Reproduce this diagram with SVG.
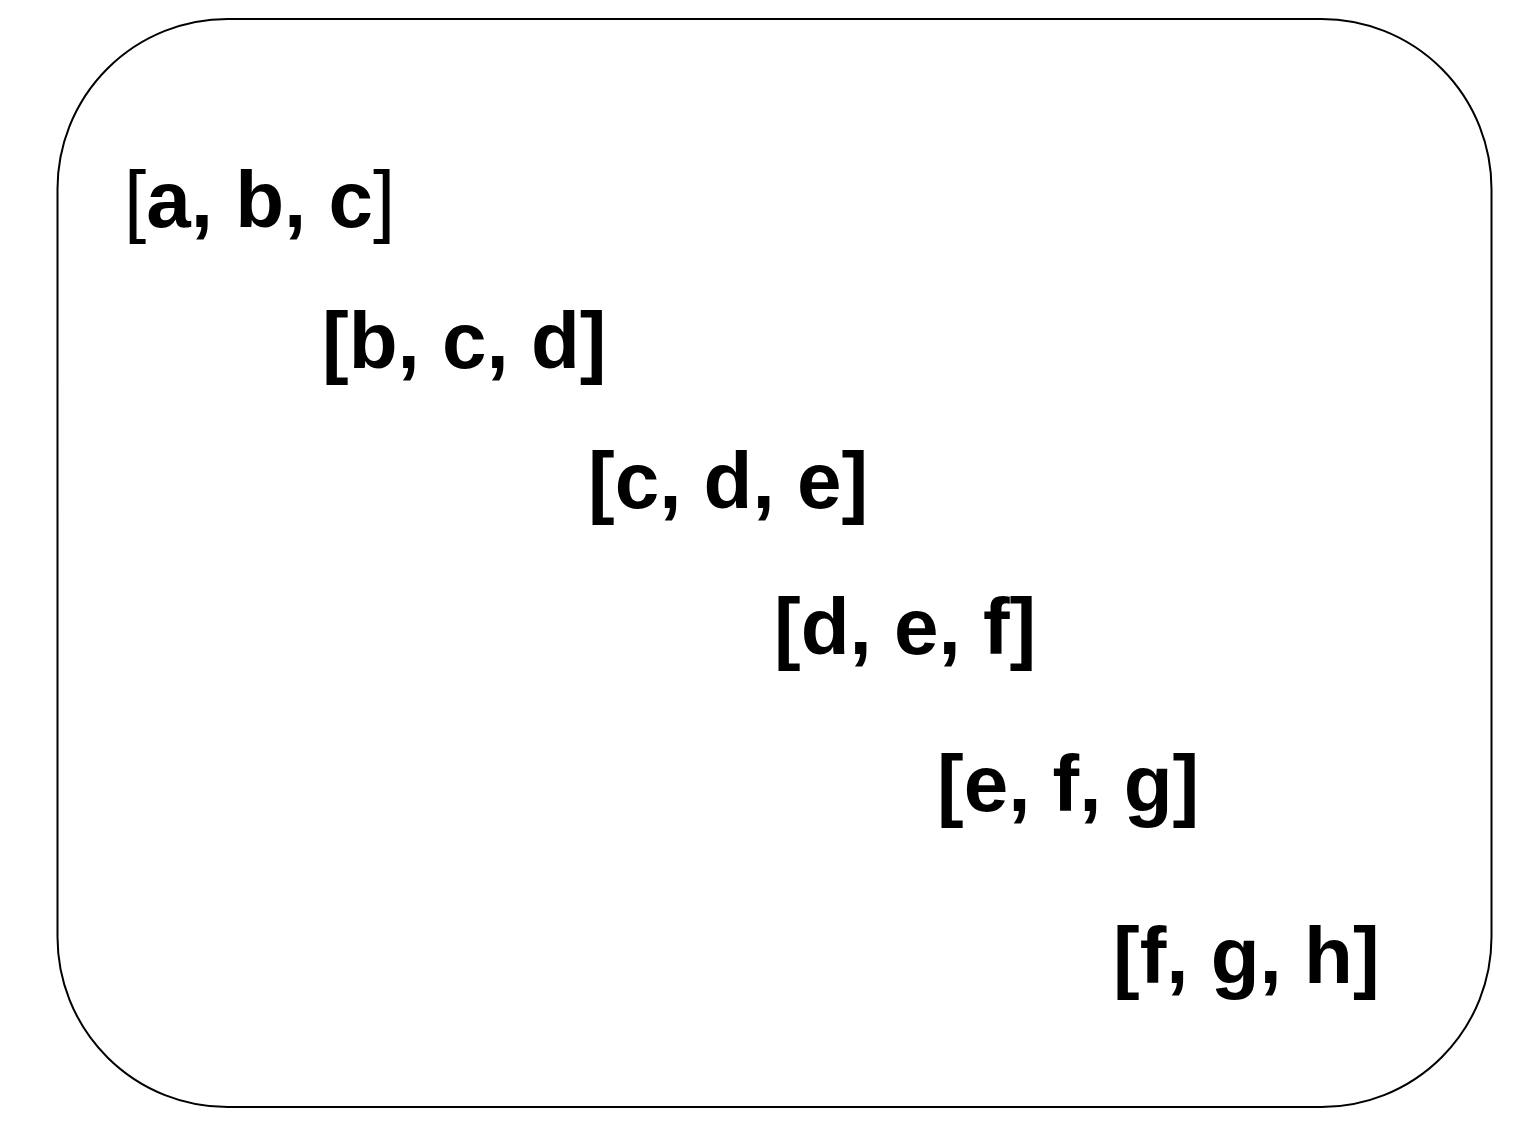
<svg xmlns="http://www.w3.org/2000/svg" width="1536" height="1134" viewBox="0 0 1536 1134">
<style>
.frame{fill:#fff;stroke:#000;stroke-width:2}
.t{font-family:"Liberation Sans",Arial,sans-serif;font-weight:bold;font-size:80px;fill:#000}
.n{font-weight:normal}
</style>
<rect width="1536" height="1134" fill="#fff"/>
<g id="frame"><rect class="frame" x="57.5" y="19" width="1434" height="1088" rx="170" ry="170"/></g>
<g id="w1"><text class="t" x="124" y="227"><tspan class="n">[</tspan>a, b, c<tspan class="n">]</tspan></text></g>
<g id="w2"><text class="t" x="322" y="368">[b, c, d]</text></g>
<g id="w3"><text class="t" x="588" y="508">[c, d, e]</text></g>
<g id="w4"><text class="t" x="774" y="654">[d, e, f]</text></g>
<g id="w5"><text class="t" x="937" y="811">[e, f, g]</text></g>
<g id="w6"><text class="t" x="1113" y="983">[f, g, h]</text></g>
<g id="connectors"></g>
</svg>
